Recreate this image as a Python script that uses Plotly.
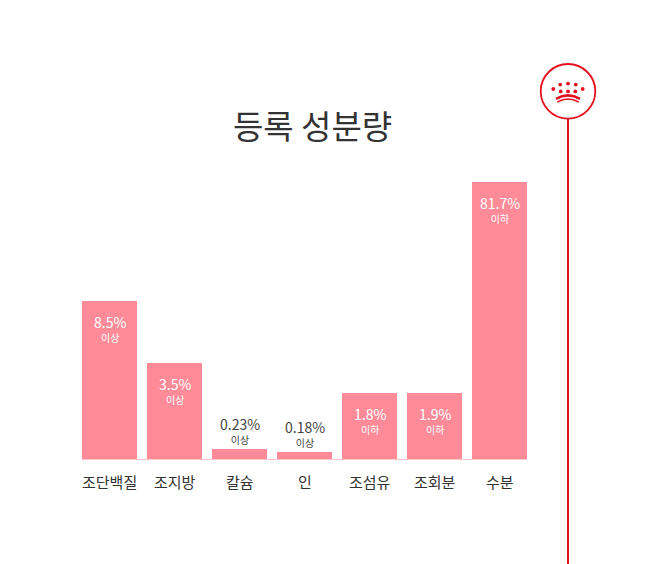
import plotly.graph_objects as go

# ---- data ----
categories = ["조단백질", "조지방", "칼슘", "인", "조섬유", "조회분", "수분"]
value_labels = ["8.5%", "3.5%", "0.23%", "0.18%", "1.8%", "1.9%", "81.7%"]
qualifiers = ["이상", "이상", "이상", "이상", "이하", "이하", "이하"]
# displayed bar heights (graphic units)
bar_heights = [159, 97, 11, 8, 67, 67, 278]

W, H = 660, 564
FONT = "Noto Sans CJK KR"
PINK = "#ff8b99"
RED = "#e4101f"

def px(x):
    return x / W

def py(y):
    return 1 - y / H

n = len(categories)
xs = list(range(n))

fig = go.Figure()
fig.add_trace(go.Bar(
    x=xs, y=bar_heights, width=0.846,
    marker=dict(color=PINK, line=dict(width=0)),
    hoverinfo="skip",
))

annotations = []
for i, (h, v, q, c) in enumerate(zip(bar_heights, value_labels, qualifiers, categories)):
    inside = h > 40
    col = "white" if inside else "#444444"
    shift = -28 if inside else 18
    txt = "<span style='font-size:14px'>%s</span><br><span style='font-size:10px'>%s</span>" % (v, q)
    annotations.append(dict(x=i, y=h, xref="x", yref="y", text=txt, showarrow=False,
                            yshift=shift, font=dict(family=FONT, size=11, color=col),
                            xanchor="center", yanchor="middle", align="center"))
    annotations.append(dict(x=i, y=0, xref="x", yref="y", text=c, showarrow=False,
                            yshift=-22, font=dict(family=FONT, size=15, color="#333333"),
                            xanchor="center", yanchor="middle"))

annotations.append(dict(x=px(312.5), y=py(125), xref="paper", yref="paper", text="등록 성분량",
                        showarrow=False, font=dict(family=FONT, size=33, color="#333333"),
                        xanchor="center", yanchor="middle"))

shapes = []
# baseline
shapes.append(dict(type="line", xref="paper", yref="paper", x0=px(82), x1=px(527),
                   y0=py(459.5), y1=py(459.5), line=dict(color="#ffc3ca", width=1)))
# emblem circle and vertical line
cx, cy, r = 568, 91.3, 27.3
shapes.append(dict(type="circle", xref="paper", yref="paper",
                   x0=px(cx - r), x1=px(cx + r), y0=py(cy + r), y1=py(cy - r),
                   line=dict(color=RED, width=1.8), fillcolor="white"))
shapes.append(dict(type="line", xref="paper", yref="paper", x0=px(cx), x1=px(cx),
                   y0=py(cy + r), y1=py(H + 2), line=dict(color=RED, width=2)))
# crown dots
dots = [(560.2, 84.6), (568.0, 83.6), (575.8, 84.6),
        (553.3, 89.0), (582.7, 89.0),
        (560.7, 91.4), (568.0, 91.4), (575.3, 91.4)]
rd = 1.9
for (dx, dy) in dots:
    shapes.append(dict(type="circle", xref="paper", yref="paper",
                       x0=px(dx - rd), x1=px(dx + rd), y0=py(dy + rd), y1=py(dy - rd),
                       fillcolor=RED, line=dict(width=0)))
# crown band arcs
def arc(x0, y0, xm, ym, x1, y1):
    return "M %.4f,%.4f Q %.4f,%.4f %.4f,%.4f" % (px(x0), py(y0), px(xm), py(ym), px(x1), py(y1))

shapes.append(dict(type="path", xref="paper", yref="paper",
                   path=arc(556.0, 98.8, 568.0, 91.8, 580.0, 98.8),
                   line=dict(color=RED, width=2.6)))
shapes.append(dict(type="path", xref="paper", yref="paper",
                   path=arc(557.2, 102.0, 568.0, 95.8, 578.8, 102.0),
                   line=dict(color=RED, width=1.5)))

y_bottom = 459.5
fig.update_layout(
    width=W, height=H,
    margin=dict(l=0, r=0, t=0, b=0),
    paper_bgcolor="white", plot_bgcolor="white",
    showlegend=False,
    xaxis=dict(range=[-109.5 / 65, (W - 109.5) / 65], visible=False, fixedrange=True),
    yaxis=dict(range=[-(H - y_bottom), y_bottom], visible=False, fixedrange=True),
    annotations=annotations,
    shapes=shapes,
    bargap=0,
)

fig.write_html("out.html", config={"displayModeBar": False},
               post_script="document.body.style.margin='0';document.body.style.overflow='hidden';")
